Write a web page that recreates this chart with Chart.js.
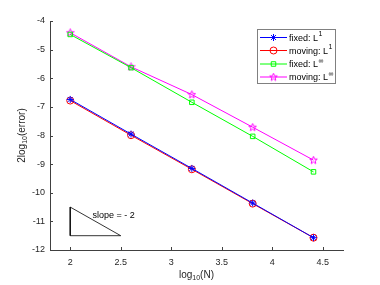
<!DOCTYPE html>
<html>
<head>
<meta charset="utf-8">
<script src="https://cdn.jsdelivr.net/npm/chart.js@4/dist/chart.umd.min.js"></script>
<style>
  html, body { margin: 0; padding: 0; background: #fff; }
  #wrap { width: 380px; height: 285px; }
</style>
</head>
<body>
<div id="wrap"><canvas id="myChart" width="380" height="285"></canvas></div>
<script>
// data
var logN = [2, 2.602, 3.204, 3.806, 4.408];
var fixedL1 = [-6.74, -7.95, -9.15, -10.36, -11.57];
var movingL1 = [-6.78, -7.99, -9.18, -10.38, -11.57];
var fixedLinf = [-4.47, -5.63, -6.84, -8.03, -9.27];
var movingLinf = [-4.41, -5.60, -6.57, -7.71, -8.86];
var xTicks = [2, 2.5, 3, 3.5, 4, 4.5];
var yTicks = [-12, -11, -10, -9, -8, -7, -6, -5, -4];
// slope triangle
var triX = [2, 2, 2.5, 2];
var triY = [-10.5, -11.5, -11.5, -10.5];
var slopeText = 'slope = - 2';
var legendNames = [['fixed: L', '1'], ['moving: L', '1'], ['fixed: L', '\u221E'], ['moving: L', '\u221E']];

var axisColor = '#404040';
var fontFam = '"Liberation Sans", Arial, sans-serif';

function pts(xs, ys) {
    return xs.map(function (x, i) { return { x: x, y: ys[i] }; });
}

// pentagram marker
function makeStar(color) {
    var c = document.createElement('canvas');
    c.width = 9; c.height = 9;
    var g = c.getContext('2d');
    g.strokeStyle = color;
    g.lineWidth = 1;
    g.beginPath();
    for (var i = 0; i < 10; i++) {
        var r = (i % 2 == 0) ? 4 : 1.7;
        var a = -Math.PI / 2 + i * Math.PI / 5;
        var px = 4.5 + r * Math.cos(a), py = 4.7 + r * Math.sin(a);
        if (i == 0) g.moveTo(px, py); else g.lineTo(px, py);
    }
    g.closePath();
    g.stroke();
    return c;
}
var magStar = makeStar('#ff00ff');

var styles = [
    { color: '#0000ff', point: 'star', radius: 3.5 },
    { color: '#ff0000', point: 'circle', radius: 3.5 },
    { color: '#00ff00', point: 'rect', radius: 3.2 },
    { color: '#ff00ff', point: magStar, radius: 4.5 }
];

function drawMarker(g, st, x, y) {
    g.save();
    g.strokeStyle = st.color;
    g.fillStyle = 'rgba(0,0,0,0)';
    g.lineWidth = 1;
    if (st.point === magStar) {
        g.drawImage(magStar, x - 4.5, y - 4.5);
    } else {
        Chart.helpers.drawPoint(g, { pointStyle: st.point, radius: st.radius, rotation: 0, borderWidth: 1 }, x, y);
    }
    g.restore();
}

var extras = {
    id: 'extras',
    afterDraw: function (chart) {
        var g = chart.ctx;
        var xs = chart.scales.x, ys = chart.scales.y;
        var a = chart.chartArea;
        g.save();
        // inward ticks
        g.strokeStyle = axisColor;
        g.lineWidth = 1;
        g.beginPath();
        xTicks.forEach(function (t) {
            var px = Math.round(xs.getPixelForValue(t)) + 0.5;
            g.moveTo(px, a.bottom); g.lineTo(px, a.bottom - 3);
        });
        yTicks.forEach(function (t) {
            var py = Math.round(ys.getPixelForValue(t)) + 0.5;
            g.moveTo(a.left, py); g.lineTo(a.left + 3, py);
        });
        g.stroke();

        // slope text
        g.fillStyle = '#000';
        g.font = '9px ' + fontFam;
        g.textBaseline = 'middle';
        g.textAlign = 'left';
        g.fillText(slopeText, xs.getPixelForValue(2.22), ys.getPixelForValue(-10.8));

        // axis titles with subscripts
        g.fillStyle = '#262626';
        var cx = (a.left + a.right) / 2, ty = 275;
        g.font = '10px ' + fontFam;
        var w1 = g.measureText('log').width;
        g.font = '7px ' + fontFam;
        var w2 = g.measureText('10').width;
        g.font = '10px ' + fontFam;
        var w3 = g.measureText('(N)').width;
        var sx = cx - (w1 + w2 + w3) / 2;
        g.textAlign = 'left';
        g.fillText('log', sx, ty);
        g.font = '7px ' + fontFam;
        g.fillText('10', sx + w1, ty + 3);
        g.font = '10px ' + fontFam;
        g.fillText('(N)', sx + w1 + w2, ty);

        g.save();
        g.translate(22, (a.top + a.bottom) / 2);
        g.rotate(-Math.PI / 2);
        g.font = '10px ' + fontFam;
        var v1 = g.measureText('2log').width;
        g.font = '7px ' + fontFam;
        var v2 = g.measureText('10').width;
        g.font = '10px ' + fontFam;
        var v3 = g.measureText('(error)').width;
        var vx = -(v1 + v2 + v3) / 2;
        g.fillText('2log', vx, 0);
        g.font = '7px ' + fontFam;
        g.fillText('10', vx + v1, 3);
        g.font = '10px ' + fontFam;
        g.fillText('(error)', vx + v1 + v2, 0);
        g.restore();

        // legend box
        var bx = 257.5, by = 29.5, bw = 78, bh = 54;
        g.fillStyle = '#fff';
        g.fillRect(bx, by, bw, bh);
        g.strokeStyle = '#808080';
        g.lineWidth = 1;
        g.strokeRect(bx, by, bw, bh);
        var rowY = [37.5, 50.5, 64, 77];
        styles.forEach(function (st, i) {
            var y = rowY[i];
            g.strokeStyle = st.color;
            g.lineWidth = 1;
            g.beginPath();
            g.moveTo(260, y); g.lineTo(287, y);
            g.stroke();
            drawMarker(g, st, 273.5, y);
            g.fillStyle = '#000';
            g.font = '9px ' + fontFam;
            g.textAlign = 'left';
            g.textBaseline = 'middle';
            var nm = legendNames[i];
            g.fillText(nm[0], 289, y + 1);
            var wn = g.measureText(nm[0]).width;
            g.font = '7px ' + fontFam;
            g.fillText(nm[1], 289 + wn + 0.5, y - 3);
        });
        g.restore();
    }
};

var series = [fixedL1, movingL1, fixedLinf, movingLinf];
var datasets = series.map(function (s, i) {
    var st = styles[i];
    return {
        data: pts(logN, s),
        borderColor: st.color,
        backgroundColor: 'rgba(0,0,0,0)',
        borderWidth: 1,
        pointStyle: st.point,
        pointRadius: st.radius,
        pointBorderWidth: 1,
        pointBorderColor: st.color,
        pointBackgroundColor: 'rgba(0,0,0,0)',
        tension: 0
    };
});
datasets.push({
    data: pts(triX, triY),
    borderColor: '#000',
    borderWidth: 0.8,
    pointRadius: 0,
    tension: 0
});

var ctx = document.getElementById('myChart').getContext('2d');
var myChart = new Chart(ctx, {
    type: 'line',
    data: { datasets: datasets },
    plugins: [extras],
    options: {
        responsive: false,
        animation: false,
        layout: { padding: { left: 0, top: 21, right: 37, bottom: 0 } },
        plugins: { legend: { display: false }, tooltip: { enabled: false } },
        scales: {
            x: {
                type: 'linear',
                min: 1.8, max: 4.7,
                afterBuildTicks: function (sc) { sc.ticks = xTicks.map(function (v) { return { value: v }; }); },
                afterFit: function (sc) { sc.height = 35; },
                grid: { display: false, drawTicks: false, tickLength: 0 },
                border: { display: true, color: axisColor, width: 1 },
                ticks: {
                    color: '#262626', font: { size: 9, family: fontFam }, padding: 7, maxRotation: 0,
                    callback: function (v) { return String(v); }
                }
            },
            y: {
                min: -12, max: -4,
                afterBuildTicks: function (sc) { sc.ticks = yTicks.map(function (v) { return { value: v }; }); },
                afterFit: function (sc) { sc.width = 50; },
                grid: { display: false, drawTicks: false, tickLength: 0 },
                border: { display: true, color: axisColor, width: 1 },
                ticks: {
                    color: '#262626', font: { size: 9, family: fontFam }, padding: 5,
                    callback: function (v) { return String(v); }
                }
            }
        }
    }
});
</script>
</body>
</html>
